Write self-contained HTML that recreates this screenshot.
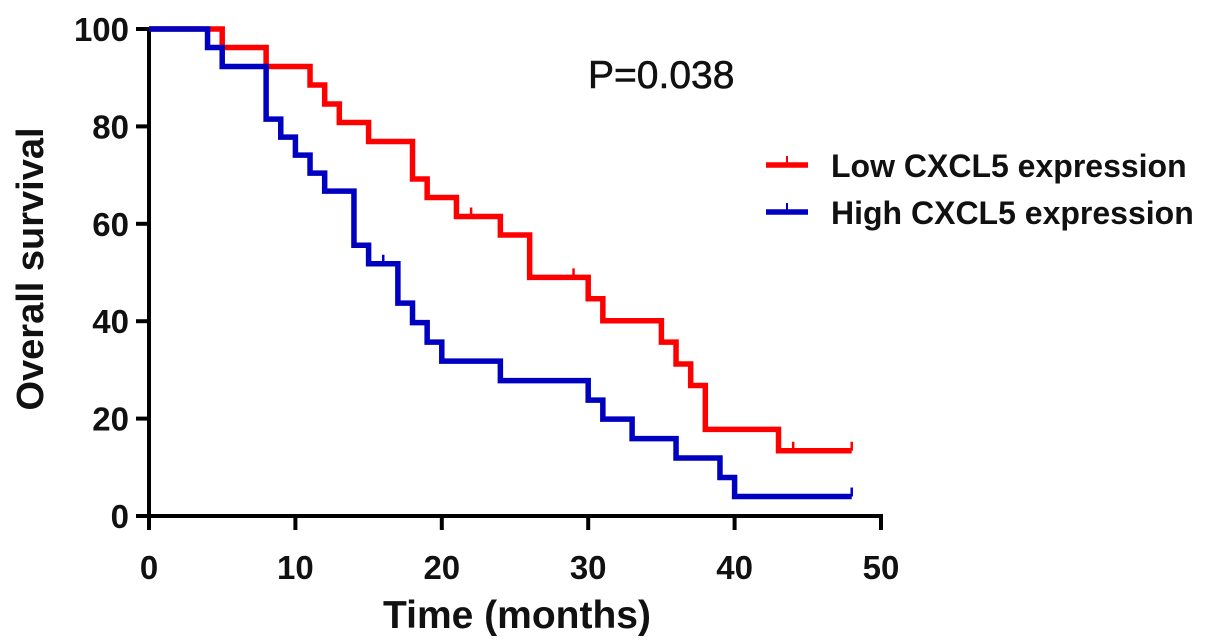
<!DOCTYPE html>
<html><head><meta charset="utf-8"><style>
html,body{margin:0;padding:0;background:#fff;}
svg{display:block;font-family:"Liberation Sans",Arial,sans-serif;}
</style></head><body>
<svg id="chart" width="1205" height="643" viewBox="0 0 1205 643">
<g id="axes"></g>
<g id="series"></g>
<text x="588" y="88" font-size="39" fill="#111" stroke="#111" stroke-width="0.6">P=0.038</text>
<g>
  <g>
    <line x1="766" y1="165" x2="808" y2="165" stroke="#ff0000" stroke-width="5.5"/>
    <line x1="787" y1="165" x2="787" y2="156" stroke="#ff0000" stroke-width="2"/>
    <text x="831" y="177" font-size="32" font-weight="bold" fill="#111">Low CXCL5 expression</text>
  </g>
  <g>
    <line x1="766" y1="212" x2="808" y2="212" stroke="#0000c0" stroke-width="5.5"/>
    <line x1="787" y1="212" x2="787" y2="203" stroke="#0000c0" stroke-width="2"/>
    <text x="831" y="224" font-size="32" font-weight="bold" fill="#111">High CXCL5 expression</text>
  </g>
</g>
<text x="517" y="628" font-size="39" font-weight="bold" text-anchor="middle" fill="#111">Time (months)</text>
<text transform="translate(43,269) rotate(-90)" font-size="38" font-weight="bold" text-anchor="middle" fill="#111">Overall survival</text>
</svg>
<script>
const xTicks = [0,10,20,30,40,50];
const yTicks = [0,20,40,60,80,100];
const lowTimes = [0,5,8,11,12,13,15,18,19,21,24,26,30,31,35,36,37,38,43];
const lowSurv = [100,96.2,92.3,88.5,84.6,80.8,76.9,69.2,65.4,61.5,57.7,49,44.6,40.1,35.7,31.2,26.8,17.8,13.4];
const lowEnd = 48;
const lowCensor = [22,29,44,48];
const highTimes = [0,4,5,8,9,10,11,12,14,15,17,18,19,20,24,30,31,33,36,39,40];
const highSurv = [100,96.2,92.3,81.5,77.8,74.1,70.4,66.7,55.6,51.8,43.7,39.7,35.7,31.8,27.8,23.8,19.9,15.9,11.9,7.9,4];
const highEnd = 48;
const highCensor = [16,48];

const NS='http://www.w3.org/2000/svg';
const x = t => 149 + t*14.64;
const y = v => 516 - v*4.87;
function mk(tag, attrs, parent){const e=document.createElementNS(NS,tag);for(const k in attrs)e.setAttribute(k,attrs[k]);parent.appendChild(e);return e;}
const axes=document.getElementById('axes');
const ax1=mk('line',{x1:x(0),y1:y(0),x2:x(50)+2,y2:y(0),stroke:'#000','stroke-width':4},axes);


const ay1=mk('line',{x1:x(0),y1:y(0)+2,x2:x(0),y2:y(100)-2,stroke:'#000','stroke-width':4},axes);


xTicks.forEach(t=>{
  mk('line',{x1:x(t),y1:y(0),x2:x(t),y2:y(0)+14,stroke:'#000','stroke-width':4},axes);
  const tx=mk('text',{x:x(t),y:579,'font-size':33,'font-weight':'bold','text-anchor':'middle',fill:'#111'},axes);
  tx.textContent=t;
  
  
});
yTicks.forEach(v=>{
  mk('line',{x1:x(0)-13,y1:y(v),x2:x(0),y2:y(v),stroke:'#000','stroke-width':4},axes);
  const tx=mk('text',{x:129,y:y(v)+12,'font-size':33,'font-weight':'bold','text-anchor':'end',fill:'#111'},axes);
  tx.textContent=v;
  
  
});
function kmPath(times,surv,end){
  let d='M'+x(times[0])+' '+y(surv[0]);
  for(let i=1;i<times.length;i++){d+=' H'+x(times[i])+' V'+y(surv[i]);}
  d+=' H'+x(end);
  return d;
}
function survAt(times,surv,t){let s=surv[0];for(let i=0;i<times.length;i++){if(times[i]<=t)s=surv[i];}return s;}
const series=document.getElementById('series');
const pl=mk('path',{d:kmPath(lowTimes,lowSurv,lowEnd),fill:'none',stroke:'#ff0000','stroke-width':5.5,'stroke-linejoin':'miter'},series);


lowCensor.forEach(t=>{
  const v=survAt(lowTimes,lowSurv,t);
  const c=mk('line',{x1:x(t),y1:y(v),x2:x(t),y2:y(v)-9,stroke:'#ff0000','stroke-width':2.5},series);
  
  
});
const ph=mk('path',{d:kmPath(highTimes,highSurv,highEnd),fill:'none',stroke:'#0000c0','stroke-width':5.5,'stroke-linejoin':'miter'},series);


highCensor.forEach(t=>{
  const v=survAt(highTimes,highSurv,t);
  const c=mk('line',{x1:x(t),y1:y(v),x2:x(t),y2:y(v)-9,stroke:'#0000c0','stroke-width':2.5},series);
  
  
});
</script>
</body></html>
